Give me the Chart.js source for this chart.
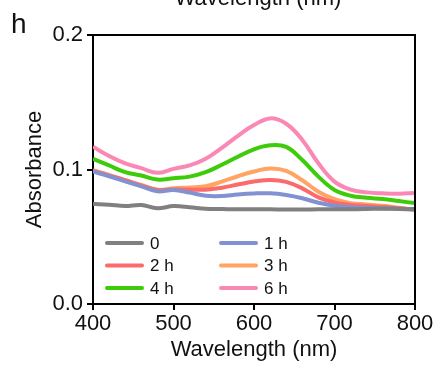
<!DOCTYPE html>
<html>
<head>
<meta charset="utf-8">
<style>
  html, body { margin: 0; padding: 0; background: #fff; }
  #spectra { display: block; }
</style>
</head>
<body>
<canvas id="spectra" width="435" height="366"></canvas>

<script src="https://cdn.jsdelivr.net/npm/chart.js"></script>

<script>
  // wavelength grid (nm)
  const wavelengths = [400, 420, 440, 460, 480, 500, 520, 540, 560, 580, 600, 620, 640, 660, 680, 700, 720, 740, 760, 780, 800];

  const labels = ['0', '1 h', '2 h', '3 h', '4 h', '6 h'];
  const colors = ['#808080', '#8191d1', '#fb6b6b', '#ffa462', '#3ecc0a', '#fb88b4'];

  const abs0  = [0.0745, 0.0738, 0.0729, 0.0736, 0.0712, 0.0728, 0.0720, 0.0708, 0.0706, 0.0704, 0.0704, 0.0704, 0.0703, 0.0703, 0.0704, 0.0704, 0.0704, 0.0706, 0.0709, 0.0706, 0.0704];
  const abs1h = [0.0985, 0.0950, 0.0912, 0.0875, 0.0838, 0.0848, 0.0828, 0.0805, 0.0803, 0.0815, 0.0822, 0.0823, 0.0810, 0.0786, 0.0753, 0.0730, 0.0720, 0.0715, 0.0711, 0.0708, 0.0704];
  const abs2h = [0.0990, 0.0955, 0.0920, 0.0880, 0.0848, 0.0852, 0.0850, 0.0850, 0.0865, 0.0888, 0.0910, 0.0922, 0.0908, 0.0860, 0.0793, 0.0755, 0.0737, 0.0728, 0.0722, 0.0712, 0.0702];
  const abs3h = [0.0995, 0.0960, 0.0920, 0.0885, 0.0850, 0.0860, 0.0867, 0.0875, 0.0910, 0.0950, 0.0985, 0.1008, 0.0990, 0.0920, 0.0835, 0.0780, 0.0750, 0.0740, 0.0730, 0.0715, 0.0700];
  const abs4h = [0.1080, 0.1030, 0.0980, 0.0955, 0.0925, 0.0935, 0.0947, 0.0980, 0.1035, 0.1095, 0.1150, 0.1180, 0.1168, 0.1070, 0.0947, 0.0848, 0.0805, 0.0790, 0.0780, 0.0765, 0.0750];
  const abs6h = [0.1170, 0.1100, 0.1045, 0.1010, 0.0975, 0.1005, 0.1030, 0.1080, 0.1160, 0.1250, 0.1330, 0.1380, 0.1340, 0.1220, 0.1046, 0.0910, 0.0850, 0.0830, 0.0823, 0.0820, 0.0825];

  const series = [abs0, abs1h, abs2h, abs3h, abs4h, abs6h];

  const yTicks = [0, 0.1, 0.2];
  const xTicks = [400, 500, 600, 700, 800];

  const FONT = 'Liberation Sans, Arial, sans-serif';

  const datasets = series.map((vals, i) => ({
    label: labels[i],
    data: vals.map((v, j) => ({ x: wavelengths[j], y: v })),
    borderColor: colors[i],
    backgroundColor: colors[i],
    borderWidth: 4,
    pointRadius: 0,
    tension: 0.4,
    fill: false
  }));

  // frame, panel letter, cut-off title from the panel above, and legend
  const extras = {
    id: 'extras',
    afterDatasetsDraw(chart) {
      const c = chart.ctx;
      const a = chart.chartArea;
      c.save();
      c.strokeStyle = '#000';
      c.lineWidth = 2;
      c.beginPath();
      c.moveTo(a.left, a.top);
      c.lineTo(a.right, a.top);
      c.lineTo(a.right, a.bottom);
      c.stroke();

      c.fillStyle = '#111';
      c.textBaseline = 'alphabetic';
      c.font = '28px ' + FONT;
      c.textAlign = 'left';
      c.fillText('h', 11, 33);

      c.font = '22px ' + FONT;
      c.textAlign = 'center';
      c.fillText('Wavelength (nm)', 258, 5);

      // legend, two columns
      c.font = '17px ' + FONT;
      c.textAlign = 'left';
      c.textBaseline = 'middle';
      c.lineWidth = 4;
      c.lineCap = 'round';
      chart.data.datasets.forEach((ds, i) => {
        const col = i % 2, row = Math.floor(i / 2);
        const x0 = col === 0 ? 107 : 221;
        const y = 243 + row * 22.5;
        c.strokeStyle = ds.borderColor;
        c.beginPath();
        c.moveTo(x0, y);
        c.lineTo(x0 + 35, y);
        c.stroke();
        c.fillStyle = '#111';
        c.fillText(ds.label, x0 + 43, y + 1);
      });
      c.restore();
    }
  };

  new Chart(document.getElementById('spectra'), {
    type: 'line',
    data: { datasets },
    plugins: [extras],
    options: {
      responsive: false,
      animation: false,
      layout: { padding: { left: 0, right: 20, top: 35, bottom: 0 } },
      plugins: { legend: { display: false }, tooltip: { enabled: false } },
      scales: {
        x: {
          type: 'linear',
          min: 400,
          max: 800,
          afterBuildTicks(scale) { scale.ticks = xTicks.map(v => ({ value: v })); },
          afterFit(scale) { scale.height = 62; },
          ticks: { color: '#111', font: { family: FONT, size: 22 }, padding: 1, maxRotation: 0 },
          grid: { drawOnChartArea: false, color: '#000', lineWidth: 2, tickLength: 6 },
          border: { color: '#000', width: 2 },
          title: { display: true, text: 'Wavelength (nm)', color: '#111', font: { family: FONT, size: 22 }, padding: { top: 0, bottom: 3 } }
        },
        y: {
          min: 0,
          max: 0.2,
          afterBuildTicks(scale) { scale.ticks = yTicks.map(v => ({ value: v })); },
          afterFit(scale) { scale.width = 93; },
          ticks: { color: '#111', font: { family: FONT, size: 22 }, padding: 4, callback: v => v.toFixed(1) },
          grid: { drawOnChartArea: false, color: '#000', lineWidth: 2, tickLength: 6 },
          border: { color: '#000', width: 2 },
          title: { display: true, text: 'Absorbance', color: '#111', font: { family: FONT, size: 22 }, padding: { top: 22, bottom: 0 } }
        }
      }
    }
  });
</script>
</body>
</html>
